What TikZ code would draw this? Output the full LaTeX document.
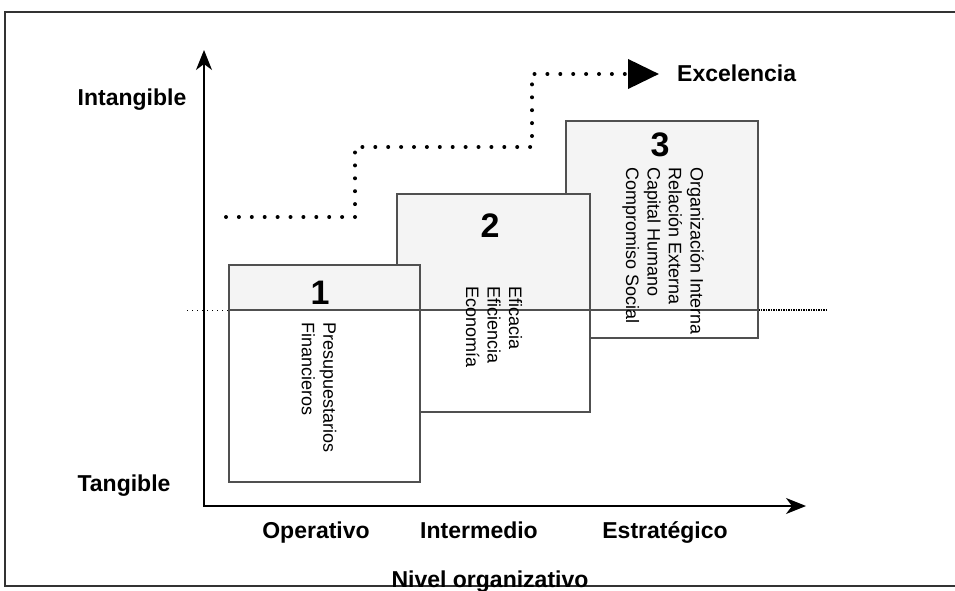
\documentclass[tikz,border=0pt]{standalone}
\usepackage{fontspec}
\setmainfont{Liberation Sans}
\usetikzlibrary{arrows.meta}
\definecolor{boxfill}{RGB}{244,244,244}
\definecolor{boxline}{RGB}{80,80,80}
\begin{document}
\begin{tikzpicture}[x=1pt,y=-1pt,
  lbl/.style={font=\bfseries\fontsize{23}{27}\selectfont, inner sep=0pt},
  num/.style={font=\bfseries\fontsize{34}{40}\selectfont, inner sep=0pt},
  vtxt/.style={font=\fontsize{18}{21.5}\selectfont, rotate=-90, anchor=west, align=left, inner sep=0pt},
  upperpart/.style={draw=boxline, fill=boxfill, line width=1.1pt},
  lowerpart/.style={draw=boxline, fill=white, line width=1.1pt},
  axisline/.style={line width=1.3pt, {Stealth[length=20pt,width=16pt,inset=6pt]}-{Stealth[length=20pt,width=16pt,inset=6pt]}},
  steppath/.style={line width=4pt, line cap=round, dash pattern=on 0pt off 12.9pt, -{Triangle[length=31pt,width=29pt]}}
]
\useasboundingbox (0,0) rectangle (955,591);
% frame
\draw[black!80, line width=1.8pt] (5,12) rectangle (975,586);
% dotted extensions of the mid line
\draw[line width=1pt, dash pattern=on 1pt off 4pt] (187,310) -- (229,310);
\draw[line width=1.2pt, dash pattern=on 1.5pt off 1pt] (758,310) -- (828,310);
% box 3
\draw[upperpart] (566,121) rectangle (758,310);
\draw[lowerpart] (566,310) rectangle (758,338);
\node[num] (n3) at (660,145) {3};
\node[vtxt] (t3) at (663,167) {Organización Interna\\Relación Externa\\Capital Humano\\Compromiso Social};
% box 2
\draw[upperpart] (397,194) rectangle (590,310);
\draw[lowerpart] (397,310) rectangle (590,412);
\node[num] (n2) at (490,226) {2};
\node[vtxt] (t2) at (494,286) {Eficacia\\Eficiencia\\Economía};
% box 1
\draw[upperpart] (229,265) rectangle (420,310);
\draw[lowerpart] (229,310) rectangle (420,482);
\node[num] (n1) at (320,293) {1};
\node[vtxt] (t1) at (319,322) {Presupuestarios\\Financieros};
% axes
\coordinate (o) at (204,506);
\coordinate (ytip) at (204,50);
\coordinate (xtip) at (806,506);
\draw[axisline] (ytip) -- (o) -- (xtip);
% labels
\node[lbl, anchor=base] (intang) at (132,106) {Intangible};
\node[lbl, anchor=base] (tang) at (124,491) {Tangible};
\node[lbl, anchor=base] (oper) at (316,538) {Operativo};
\node[lbl, anchor=base] (inter) at (479,538) {Intermedio};
\node[lbl, anchor=base] (estr) at (665,538) {Estratégico};
\node[lbl, anchor=base] (niv) at (490,587) {Nivel organizativo};
% excellence path
\node[lbl, anchor=base west] (exc) at (677,82) {Excelencia};
\coordinate (p0) at (226,217);
\coordinate (pend) at (659,74);
\draw[steppath] (p0) -- (355,217) -- (355,147) -- (532,147) -- (532,74) -- (pend);
\end{tikzpicture}
\end{document}
